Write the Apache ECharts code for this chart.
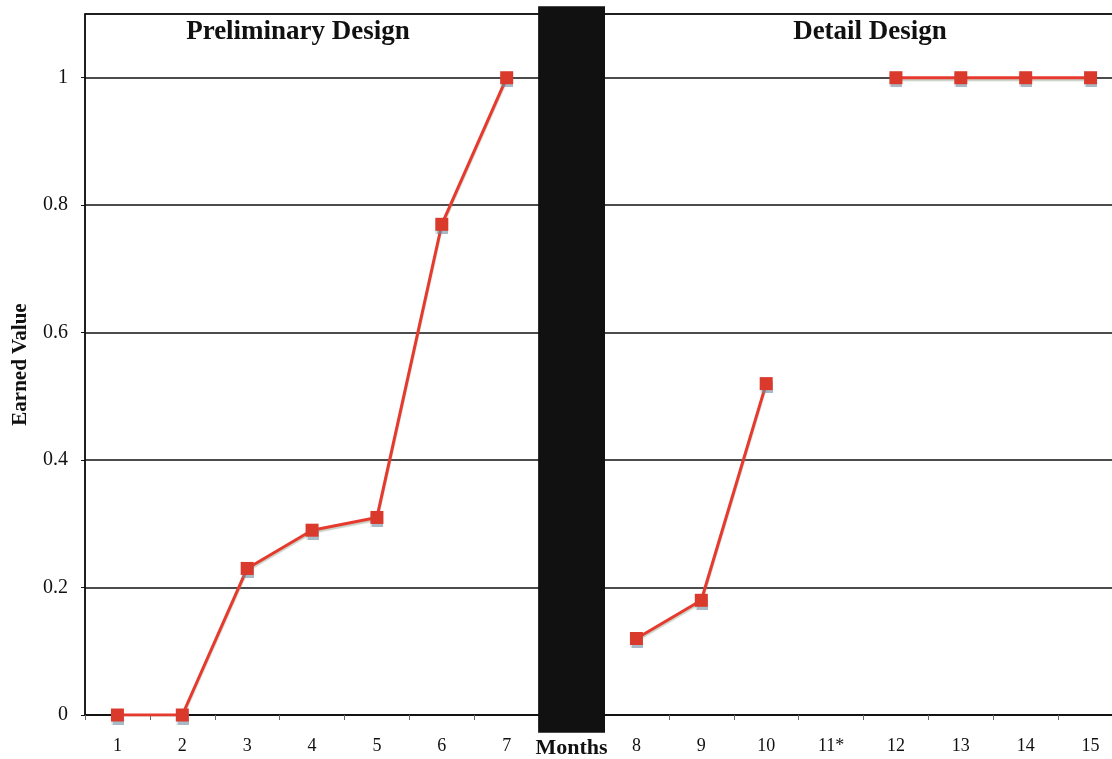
<!DOCTYPE html>
<html>
<head>
<meta charset="utf-8">
<script src="https://cdn.jsdelivr.net/npm/echarts@6/dist/echarts.min.js"></script>
<style>
  html, body { margin: 0; padding: 0; background: #fff; overflow: hidden; }
  /* the plot continues slightly past the right edge of the window */
  #chart { width: 1124px; height: 759px; }
</style>
</head>
<body>
<div id="chart"></div>
<script>
// Month categories; "Months" marks the break between the two design phases
const categories = ['1', '2', '3', '4', '5', '6', '7', 'Months', '8', '9', '10', '11*', '12', '13', '14', '15'];
// Earned value per month (null = no reading)
const earnedValue = [0, 0, 0.23, 0.29, 0.31, 0.77, 1.0, null, 0.12, 0.18, 0.52, null, 1.0, 1.0, 1.0, 1.0];
// Phase separator: category, lower and upper value of the dark band
const separator = [['Months', -0.028, 1.112]];
const yTicks = { min: 0, max: 1.1, interval: 0.2 };
const phaseTitles = ['Preliminary Design', 'Detail Design'];

const serif = '"Liberation Serif", "DejaVu Serif", serif';
const chart = echarts.init(document.getElementById('chart'));

chart.setOption({
  animation: false,
  backgroundColor: '#fff',
  title: [
    { text: phaseTitles[0], left: 293, top: 14, textAlign: 'center',
      textStyle: { fontFamily: serif, fontWeight: 'bold', fontSize: 27, color: '#111' } },
    { text: phaseTitles[1], left: 865, top: 14, textAlign: 'center',
      textStyle: { fontFamily: serif, fontWeight: 'bold', fontSize: 27, color: '#111' } }
  ],
  grid: {
    left: 85, right: 1, top: 14, bottom: 40,
    show: true, borderColor: '#111', borderWidth: 1.5, backgroundColor: 'transparent'
  },
  xAxis: {
    type: 'category',
    data: categories,
    boundaryGap: true,
    axisLine: { lineStyle: { color: '#111', width: 1.5 } },
    axisTick: { show: true, length: 5, lineStyle: { color: '#666', width: 1 } },
    axisLabel: {
      interval: 0,
      margin: 22,
      fontFamily: serif, fontSize: 18, color: '#111',
      formatter: v => v === 'Months' ? '{b|' + v + '}' : v,
      rich: { b: { fontFamily: serif, fontSize: 22, fontWeight: 'bold', color: '#111' } }
    },
    splitLine: { show: false }
  },
  yAxis: {
    type: 'value',
    min: yTicks.min, max: yTicks.max, interval: yTicks.interval,
    name: 'Earned Value',
    nameLocation: 'middle',
    nameGap: 54,
    nameTextStyle: { fontFamily: serif, fontWeight: 'bold', fontSize: 21, color: '#111' },
    axisLine: { show: true, lineStyle: { color: '#111', width: 1.5 } },
    axisTick: { show: true, length: 4, lineStyle: { color: '#111' } },
    axisLabel: { margin: 17, fontFamily: serif, fontSize: 20, color: '#111', showMaxLabel: false },
    splitLine: { show: true, lineStyle: { color: '#111', width: 1.5 } }
  },
  series: [
    {
      type: 'custom',
      name: 'separator',
      data: separator,
      encode: { x: 0, y: [1, 2] },
      z: 3,
      clip: false,
      renderItem: (params, api) => {
        const lo = api.coord([api.value(0), api.value(1)]);
        const hi = api.coord([api.value(0), api.value(2)]);
        const w = api.size([1, 0])[0] + 2;
        return {
          type: 'rect',
          shape: { x: lo[0] - w / 2, y: hi[1], width: w, height: lo[1] - hi[1] },
          style: { fill: '#111' }
        };
      }
    },
    {
      type: 'line',
      name: 'Earned Value',
      data: earnedValue,
      connectNulls: false,
      z: 4,
      symbol: 'rect',
      symbolSize: 13,
      lineStyle: {
        color: '#e63a2e', width: 3,
        shadowColor: 'rgba(120,140,110,0.4)', shadowOffsetY: 2, shadowBlur: 1
      },
      itemStyle: {
        color: '#d93a2c',
        shadowColor: 'rgba(110,140,160,0.6)', shadowOffsetY: 3, shadowBlur: 1
      }
    }
  ]
});
</script>
</body>
</html>
